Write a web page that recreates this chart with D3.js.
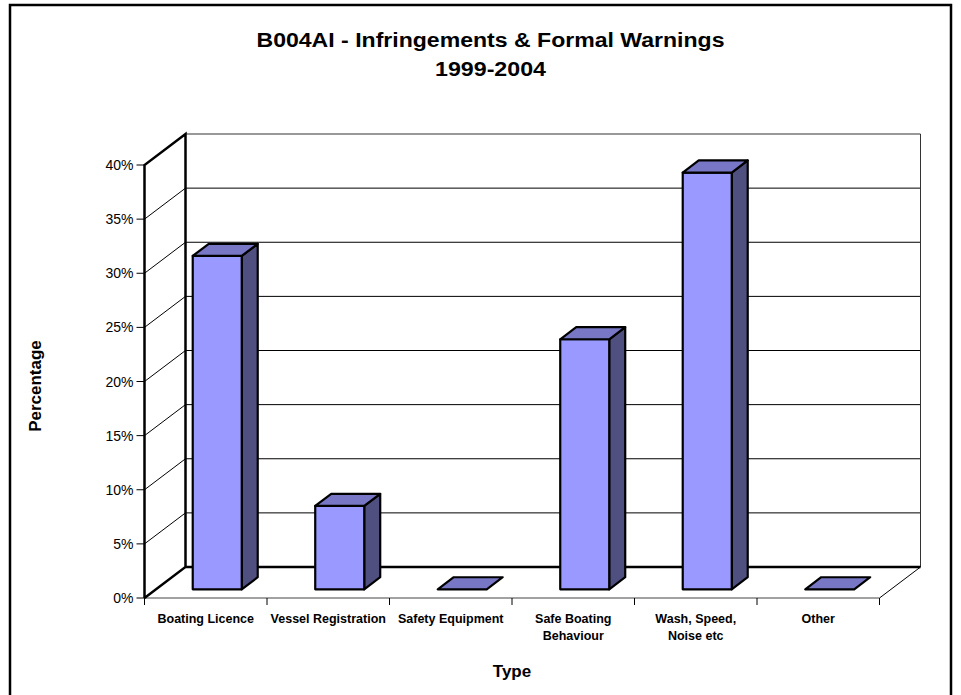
<!DOCTYPE html>
<html>
<head>
<meta charset="utf-8">
<script src="https://cdn.jsdelivr.net/npm/d3@7"></script>
<style>
  html, body { margin: 0; padding: 0; background: #fff; }
  svg { display: block; }
  text { font-family: Arial, "Liberation Sans", Helvetica, sans-serif; fill: #000; }
</style>
</head>
<body>
<svg id="chart" width="961" height="695"></svg>
<script>
// Share of infringements and formal warnings by type, 1999-2004
const categories = ["Boating Licence", "Vessel Registration", "Safety Equipment",
                    "Safe Boating Behaviour", "Wash, Speed, Noise etc", "Other"];
const categoryLines = [["Boating Licence"], ["Vessel Registration"], ["Safety Equipment"],
                       ["Safe Boating", "Behaviour"], ["Wash, Speed,", "Noise etc"], ["Other"]];
const values = [0.308, 0.077, 0.0, 0.231, 0.385, 0.0];
const yTicks = [0, 0.05, 0.10, 0.15, 0.20, 0.25, 0.30, 0.35, 0.40];
const titleLines = ["B004AI - Infringements & Formal Warnings", "1999-2004"];
const xTitle = "Type";
const yTitle = "Percentage";

const svg = d3.select("#chart");

// Outer frame
svg.append("rect")
  .attr("x", 10).attr("y", 5).attr("width", 941).attr("height", 720)
  .attr("fill", "none").attr("stroke", "#000").attr("stroke-width", 2.5);

// Front plane scales and the depth offset of the 3-D box
const x = d3.scaleBand().domain(categories).range([144.5, 879.5]).padding(0);
const y = d3.scaleLinear().domain([0, 0.40]).range([598, 165]);
const DX = 41, DY = 31;
const x0 = x.range()[0], x1 = x.range()[1];
const P = (px, v, z) => [px + z * DX, y(v) - z * DY];
const line = pts => "M" + pts.map(p => p.join(",")).join("L");

const g = svg.append("g");

// Back wall
g.append("path")
  .attr("d", line([P(x0, 0.40, 1), P(x1, 0.40, 1), P(x1, 0, 1), P(x0, 0, 1)]) + "Z")
  .attr("fill", "#fff").attr("stroke", "none");

// Gridlines on the back wall and on the side wall
yTicks.filter(v => v > 0 && v < 0.40).forEach(v => {
  g.append("path").attr("d", line([P(x0, v, 1), P(x1, v, 1)]))
    .attr("stroke", "#000").attr("stroke-width", 1).attr("fill", "none");
  g.append("path").attr("d", line([P(x0, v, 0), P(x0, v, 1)]))
    .attr("stroke", "#000").attr("stroke-width", 1).attr("fill", "none");
});

// Back wall outline (top edge, right edge)
g.append("path").attr("d", line([P(x0, 0.40, 1), P(x1, 0.40, 1), P(x1, 0, 1)]))
  .attr("stroke", "#333").attr("stroke-width", 1).attr("fill", "none");

// Floor: back edge, right edge, front edge
g.append("path").attr("d", line([P(x0, 0, 1), P(x1, 0, 1)]))
  .attr("stroke", "#000").attr("stroke-width", 2.5).attr("fill", "none");
g.append("path").attr("d", line([P(x1, 0, 1), P(x1, 0, 0)]))
  .attr("stroke", "#000").attr("stroke-width", 1).attr("fill", "none");
g.append("path").attr("d", line([P(x0, 0, 0), P(x1, 0, 0)]))
  .attr("stroke", "#444").attr("stroke-width", 1).attr("fill", "none");

// Side wall outline
g.append("path")
  .attr("d", line([P(x0, 0, 0), P(x0, 0.40, 0), P(x0, 0.40, 1), P(x0, 0, 1), P(x0, 0, 0)]))
  .attr("stroke", "#000").attr("stroke-width", 2.5).attr("fill", "none")
  .attr("stroke-linejoin", "miter");

// Value axis ticks and labels
yTicks.forEach(v => {
  g.append("line").attr("x1", x0 - 8).attr("x2", x0).attr("y1", y(v)).attr("y2", y(v))
    .attr("stroke", "#000").attr("stroke-width", 1);
  g.append("text").attr("x", x0 - 11).attr("y", y(v)).attr("dy", "0.36em")
    .attr("text-anchor", "end").attr("font-size", 14)
    .text(d3.format(".0%")(v));
});

// Category ticks
const bounds = categories.map(c => x(c)).concat([x1]);
bounds.forEach(bx => {
  g.append("line").attr("x1", bx).attr("x2", bx).attr("y1", y(0)).attr("y2", y(0) + 7)
    .attr("stroke", "#000").attr("stroke-width", 1);
});

// Columns
const z0 = 0.28, z1 = 0.67;
const bw = x.bandwidth() * 0.4;
const colors = { front: "#9999ff", top: "#7777c6", side: "#4f4f80" };
categories.forEach((c, i) => {
  const v = values[i];
  const bx0 = x(c) + (x.bandwidth() - bw) / 2;
  const bx1 = bx0 + bw;
  const bar = g.append("g")
    .attr("stroke", "#000").attr("stroke-width", 2.2).attr("stroke-linejoin", "round");
  if (v > 0) {
    bar.append("path")
      .attr("d", line([P(bx1, 0, z0), P(bx1, v, z0), P(bx1, v, z1), P(bx1, 0, z1)]) + "Z")
      .attr("fill", colors.side);
    bar.append("path")
      .attr("d", line([P(bx0, 0, z0), P(bx1, 0, z0), P(bx1, v, z0), P(bx0, v, z0)]) + "Z")
      .attr("fill", colors.front);
  }
  bar.append("path")
    .attr("d", line([P(bx0, v, z0), P(bx1, v, z0), P(bx1, v, z1), P(bx0, v, z1)]) + "Z")
    .attr("fill", colors.top);
});

// Category labels
categories.forEach((c, i) => {
  const t = g.append("text")
    .attr("x", x(c) + x.bandwidth() / 2).attr("y", 623)
    .attr("text-anchor", "middle").attr("font-size", 12.5).attr("font-weight", "bold");
  categoryLines[i].forEach((s, k) => {
    t.append("tspan").attr("x", x(c) + x.bandwidth() / 2).attr("dy", k === 0 ? 0 : 16.7).text(s);
  });
});

// Titles
svg.append("text").attr("x", 490.5).attr("y", 47)
  .attr("text-anchor", "middle").attr("font-size", 19.5).attr("font-weight", "bold")
  .attr("textLength", 468).attr("lengthAdjust", "spacingAndGlyphs")
  .text(titleLines[0]);
svg.append("text").attr("x", 490.5).attr("y", 75.5)
  .attr("text-anchor", "middle").attr("font-size", 19.5).attr("font-weight", "bold")
  .attr("textLength", 111).attr("lengthAdjust", "spacingAndGlyphs")
  .text(titleLines[1]);

svg.append("text").attr("x", 512).attr("y", 677)
  .attr("text-anchor", "middle").attr("font-size", 17).attr("font-weight", "bold")
  .text(xTitle);

svg.append("text")
  .attr("transform", "translate(41,386) rotate(-90)")
  .attr("text-anchor", "middle").attr("font-size", 17).attr("font-weight", "bold")
  .text(yTitle);
</script>
</body>
</html>
